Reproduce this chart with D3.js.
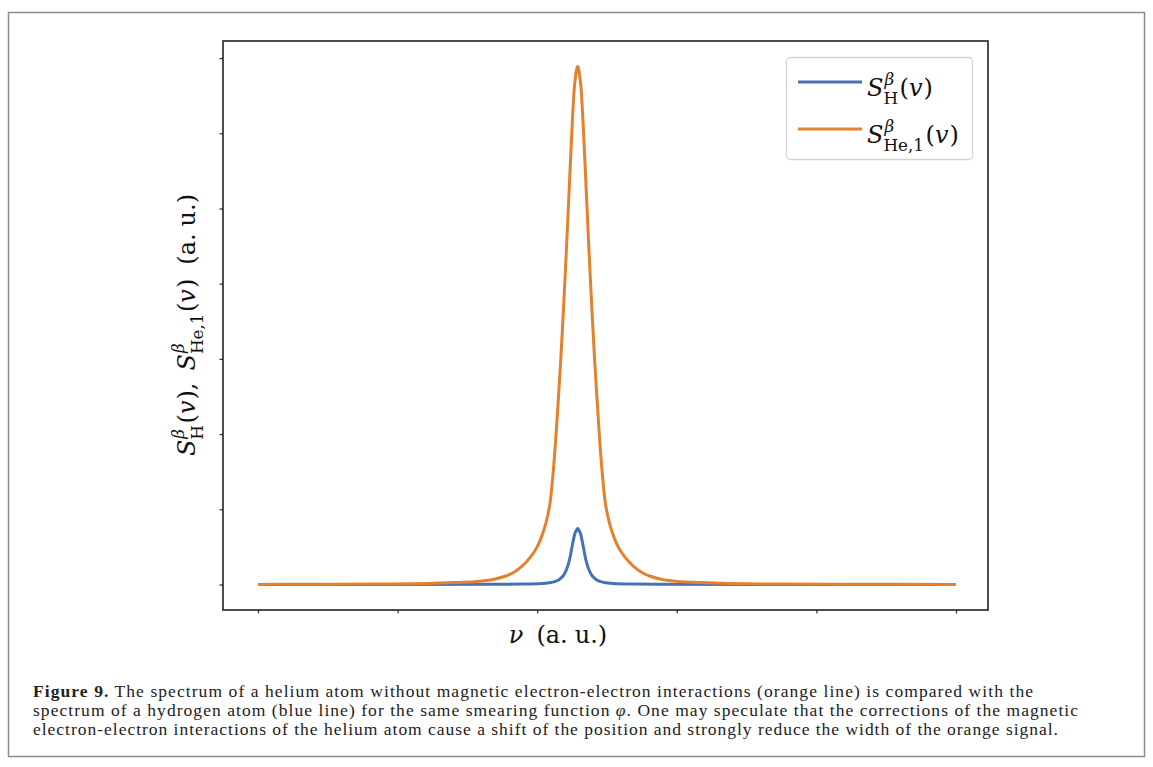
<!DOCTYPE html>
<html><head><meta charset="utf-8">
<script src="https://cdn.jsdelivr.net/npm/d3@7"></script>
<style>body{margin:0;background:#fff}</style>
</head><body><svg id="c" width="1153" height="767"></svg>
<script>
// ---- data ----
const xTicks = [0, 1, 2, 3, 4, 5];
const yTicks = [0, 1, 2, 3, 4, 5, 6, 7];

// hydrogen spectrum (blue)
const hX = [0, 1.72, 1.93, 2.04, 2.10, 2.14, 2.17, 2.19, 2.21, 2.23, 2.24, 2.25, 2.26, 2.27, 2.28, 2.29,
            2.30, 2.31, 2.32, 2.33, 2.34, 2.35, 2.37, 2.39, 2.41, 2.44, 2.48, 2.54, 2.65, 2.86, 5.0];
const hY = [0.001, 0.003, 0.007, 0.013, 0.027, 0.047, 0.086, 0.126, 0.199, 0.319, 0.406, 0.505, 0.598, 0.678, 0.718, 0.745,
            0.718, 0.678, 0.598, 0.505, 0.406, 0.319, 0.199, 0.126, 0.086, 0.047, 0.027, 0.013, 0.007, 0.003, 0.001];

// helium spectrum (orange)
const heX = [0, 0.14, 0.86, 1.22, 1.43, 1.57, 1.69, 1.77, 1.83, 1.89, 1.95, 2.00, 2.03, 2.06, 2.09, 2.11, 2.13, 2.15, 2.17, 2.19,
             2.21, 2.23, 2.25, 2.27, 2.29, 2.31, 2.33, 2.35, 2.37, 2.39, 2.41, 2.43, 2.45, 2.47, 2.49, 2.52, 2.55, 2.58, 2.63,
             2.69, 2.75, 2.81, 2.89, 3.01, 3.15, 3.36, 3.72, 4.44, 5.0];
const heY = [0.001, 0.003, 0.007, 0.013, 0.027, 0.04, 0.07, 0.11, 0.16, 0.24, 0.36, 0.50, 0.63, 0.80, 1.06, 1.40, 1.86, 2.42, 3.03, 3.72,
             4.48, 5.29, 6.09, 6.68, 6.89, 6.68, 6.09, 5.29, 4.48, 3.72, 3.03, 2.42, 1.86, 1.40, 1.06, 0.80, 0.63, 0.50, 0.36,
             0.24, 0.16, 0.11, 0.07, 0.04, 0.027, 0.013, 0.007, 0.003, 0.001];

const captionBold = "Figure 9.";
const captionLines = [
  " The spectrum of a helium atom without magnetic electron-electron interactions (orange line) is compared with the",
  ["spectrum of a hydrogen atom (blue line) for the same smearing function ", "φ", ". One may speculate that the corrections of the magnetic"],
  "electron-electron interactions of the helium atom cause a shift of the position and strongly reduce the width of the orange signal."
];

// ---- drawing ----
const svg = d3.select("#c");
const serif = "'Liberation Serif','DejaVu Serif',serif";
const mathFont = "'DejaVu Serif','Liberation Serif',serif";
const BLUE = "#4472b6", ORANGE = "#e4812f";

// outer frame
svg.append("rect").attr("x", 8.5).attr("y", 12.5).attr("width", 1136).attr("height", 744)
  .attr("fill", "none").attr("stroke", "#8c8c8c").attr("stroke-width", 1.5);

const box = {l: 223, t: 41, r: 988, b: 610};
const x = d3.scaleLinear().domain([0, 5]).range([258, 956]);
const y = d3.scaleLinear().domain([0, 7]).range([584.5, 584.5 - 7 * 75.2]);

// axes ticks
const gx = svg.append("g").attr("transform", `translate(0,${box.b})`)
  .call(d3.axisBottom(x).tickValues(xTicks).tickFormat("").tickSize(3.5));
const gy = svg.append("g").attr("transform", `translate(${box.l},0)`)
  .call(d3.axisLeft(y).tickValues(yTicks).tickFormat("").tickSize(3.5));
[gx, gy].forEach(g => {
  g.select(".domain").remove();
  g.selectAll(".tick line").attr("stroke", "#333").attr("stroke-width", 1.2);
});

// lines
const line = d3.line().x(d => x(d[0])).y(d => y(d[1])).curve(d3.curveCatmullRom.alpha(0.5));
svg.append("path").datum(d3.zip(hX, hY)).attr("d", line)
  .attr("fill", "none").attr("stroke", BLUE).attr("stroke-width", 3).attr("stroke-linejoin", "round");
svg.append("path").datum(d3.zip(heX, heY)).attr("d", line)
  .attr("fill", "none").attr("stroke", ORANGE).attr("stroke-width", 3).attr("stroke-linejoin", "round");

// axes frame
svg.append("rect").attr("x", box.l).attr("y", box.t).attr("width", box.r - box.l).attr("height", box.b - box.t)
  .attr("fill", "none").attr("stroke", "#222").attr("stroke-width", 1.6);

// ---- math text helper ----
function mathText(g, parts, size) {
  let cx = 0;
  const small = size * 0.7;
  const put = (txt, it, sz, dy, px) => {
    const t = g.append("text").attr("x", px).attr("y", dy)
      .attr("font-family", mathFont).attr("font-size", sz)
      .attr("font-style", it ? "italic" : "normal").attr("fill", "#111").text(txt);
    return t.node().getComputedTextLength();
  };
  parts.forEach(p => {
    if (p.sup !== undefined) {
      const w1 = put(p.sup, true, small, -size * 0.45, cx + 1);
      const w2 = put(p.sub, false, small, size * 0.32, cx);
      cx += Math.max(w1 + 1, w2) + 1.5;
    } else {
      cx += put(p.t, p.it, size, 0, cx) + (p.gap || 0);
    }
  });
  return cx;
}

const SH = [{t: "S", it: true}, {sup: "β", sub: "H"}, {t: "(", it: false}, {t: "v", it: true, gap: 1}, {t: ")", it: false}];
const SHe = [{t: "S", it: true}, {sup: "β", sub: "He,1"}, {t: "(", it: false}, {t: "v", it: true, gap: 1}, {t: ")", it: false}];
const AU = [{t: "(a.", it: false, gap: 7}, {t: "u.)", it: false}];

// legend
const lg = svg.append("g");
lg.append("rect").attr("x", 786.5).attr("y", 57.5).attr("width", 186).attr("height", 102).attr("rx", 4)
  .attr("fill", "#fff").attr("stroke", "#d4d4d4").attr("stroke-width", 1.3);
[[BLUE, 82, SH], [ORANGE, 129, SHe]].forEach(([c, yy, parts]) => {
  lg.append("line").attr("x1", 798).attr("x2", 862).attr("y1", yy).attr("y2", yy)
    .attr("stroke", c).attr("stroke-width", 3);
  const g = lg.append("g").attr("transform", `translate(867,${yy + 14})`);
  mathText(g, parts, 24);
});

// x label
const xl = svg.append("g");
const xw = mathText(xl, [{t: "ν", it: true, gap: 13}, ...AU], 24);
xl.attr("transform", `translate(${558 - xw / 2},643)`);

// y label
const yl = svg.append("g");
const yw = mathText(yl, [...SH, {t: ",", it: false, gap: 12}, ...SHe.slice(0, 4), {t: ")", it: false, gap: 14}, ...AU], 24);
yl.attr("transform", `translate(195,${325 + yw / 2}) rotate(-90)`);

// caption
const cap = svg.append("g").attr("font-family", serif).attr("font-size", 17.5).attr("fill", "#222");
const widths = [1000, 1045, 1025];
captionLines.forEach((ln, i) => {
  const t = cap.append("text").attr("x", 33).attr("y", 697 + i * 19)
    .attr("textLength", widths[i]).attr("lengthAdjust", "spacing");
  if (i === 0) {
    t.append("tspan").attr("font-weight", "bold").text(captionBold);
    t.append("tspan").text(ln);
  } else if (Array.isArray(ln)) {
    t.append("tspan").text(ln[0]);
    t.append("tspan").attr("font-style", "italic").text(ln[1]);
    t.append("tspan").text(ln[2]);
  } else {
    t.text(ln);
  }
});
</script>
</body></html>
